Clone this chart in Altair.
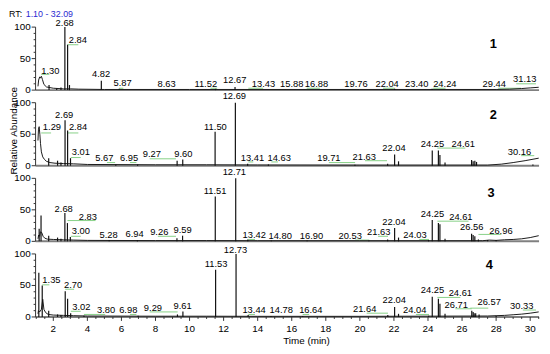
import altair as alt
import pandas as pd

STEP = 120  # vertical stacking step between the four traces (abundance units)
T_MIN, T_MAX = 0.96, 30.52
W, H = 511, 307
FONT = "Liberation Sans"

# ---------------- peaks: retention time (min) and relative abundance (%) ----------------
p1_peak_rt = [1.75, 2.20, 2.45, 2.68, 2.84, 2.95, 4.82, 5.87, 8.63, 11.52, 12.67, 22.04, 24.24]
p1_peak_h = [8, 3, 4, 100, 72, 8, 15, 2, 1.5, 2, 5, 2, 2]

p2_peak_rt = [1.73, 2.25, 2.45, 2.69, 2.84, 3.01, 5.67, 6.95, 9.27, 9.60, 11.50, 12.69, 13.41,
              14.63, 19.71, 21.63, 22.04, 22.27, 24.25, 24.61, 24.70, 25.00, 26.56, 26.65,
              26.75, 26.85, 30.16]
p2_peak_h = [12, 8, 5, 72, 56, 12, 2, 2, 8, 10, 54, 100, 3,
             2, 1.5, 3, 18, 7, 24, 24, 17, 5, 9, 7,
             8, 6, 2]

p3_peak_rt = [1.17, 1.28, 1.73, 2.25, 2.45, 2.68, 2.83, 3.00, 5.28, 6.94, 9.26, 9.59, 11.51,
              12.71, 13.42, 14.80, 16.90, 20.53, 21.63, 22.04, 22.27, 24.03, 24.25, 24.61,
              24.70, 25.00, 26.56, 26.65, 26.75, 26.96, 27.50, 28.00]
p3_peak_h = [20, 41, 9, 6, 4, 45, 29, 7, 2, 2, 5, 9, 71,
             100, 3, 1.5, 1.5, 1.5, 3, 21, 6, 2, 34, 29,
             27, 4, 12, 10, 8, 3, 2, 2]

p4_peak_rt = [1.15, 1.35, 1.73, 2.25, 2.45, 2.70, 2.84, 3.02, 3.80, 6.98, 9.29, 9.61, 11.53,
              12.73, 13.44, 14.78, 16.64, 21.64, 22.04, 22.27, 24.04, 24.25, 24.61, 24.70,
              25.00, 26.57, 26.65, 26.71, 26.80, 27.00, 28.00]
p4_peak_h = [70, 50, 10, 4, 3, 41, 29, 6, 2, 2, 4, 8.5, 75,
             100, 3, 1.5, 1.5, 3, 16, 5, 2, 32, 29, 21,
             5, 10, 8, 6, 6, 4, 2]

# ---------------- baseline / broad features: time (min) and relative abundance (%) ----------------
p1_base_t = [1.10, 1.14, 1.20, 1.24, 1.30, 1.36, 1.45, 1.60, 2.00, 2.60, 3.00, 3.50, 5.0, 10.0,
             20.0, 28.0, 28.8, 29.5, 30.0, 30.5]
p1_base_v = [6, 16, 21, 19, 22, 17, 9, 5, 3, 2, 2, 1.5, 1, 1, 1, 1, 1.5, 2.5, 3.5, 4.5]

p2_base_t = [1.10, 1.13, 1.17, 1.21, 1.25, 1.30, 1.38, 1.48, 1.60, 1.80, 2.10, 2.60, 3.20, 4.0,
             8.0, 11.0, 14.0, 20.0, 27.5, 28.3, 29.0, 29.7, 30.5]
p2_base_v = [40, 58, 62, 50, 35, 22, 14, 10, 7, 5, 4, 3.5, 3, 2, 1.5, 1.5, 1.2, 1, 1, 2.5, 5, 8, 12]

p3_base_t = [1.10, 1.14, 1.20, 1.24, 1.32, 1.40, 1.50, 1.65, 2.0, 2.6, 3.2, 4.0, 8.0, 11.0,
             14.0, 20.0, 27.2, 27.6, 28.0, 28.5, 29.0, 29.5, 30.0, 30.5]
p3_base_v = [4, 10, 8, 15, 14, 8, 5, 3.5, 3, 2.5, 2, 1.5, 1.2, 1.2, 1, 1, 1, 2, 1.5, 2.5, 3, 4, 6, 9]

p4_base_t = [1.10, 1.13, 1.20, 1.30, 1.38, 1.45, 1.55, 1.70, 2.0, 2.6, 3.2, 4.0, 8.0, 11.0,
             14.0, 20.0, 27.5, 28.0, 28.5, 29.0, 29.5, 30.0, 30.5]
p4_base_v = [5, 10, 8, 12, 28, 12, 7, 4, 3, 2.5, 2, 1.5, 1.2, 1.2, 1, 1, 1.5, 2, 2.5, 3.5, 4.5, 6, 8]

# ---------------- peak labels: text, label time position, label abundance position ----------------
p1_lab = ["2.68", "2.84", "1.30", "4.82", "5.87", "8.63", "11.52", "12.67", "13.43", "15.88",
          "16.88", "19.76", "22.04", "23.40", "24.24", "29.44", "31.13"]
p1_lab_t = [2.67, 3.44, 1.83, 4.81, 6.07, 8.65, 10.95, 12.65, 14.34, 16.00,
            17.45, 19.77, 21.60, 23.34, 24.99, 27.89, 29.68]
p1_lab_v = [106, 79, 31, 25, 11, 10, 10, 16, 10, 10, 10, 10, 10, 10, 10, 10, 17]

p2_lab = ["2.69", "1.29", "2.84", "3.01", "5.67", "6.95", "9.27", "9.60", "11.50", "12.69",
          "13.41", "14.63", "19.71", "21.63", "22.04", "24.25", "24.61", "30.16"]
p2_lab_t = [2.64, 1.92, 3.45, 3.62, 5.00, 6.45, 7.79, 9.64, 11.52, 12.63,
            13.69, 15.26, 18.18, 20.26, 22.00, 24.26, 26.07, 29.37]
p2_lab_v = [81, 61, 61, 22, 12, 12, 19, 19, 62, 110, 12, 12, 12, 14, 28, 35, 34, 22]

p3_lab = ["2.68", "2.83", "3.00", "5.28", "6.94", "9.26", "9.59", "11.51", "12.71", "13.42",
          "14.80", "16.90", "20.53", "21.63", "22.04", "24.03", "24.25", "24.61", "26.56", "26.96"]
p3_lab_t = [2.61, 4.03, 3.62, 5.25, 6.77, 8.22, 9.59, 11.50, 12.63, 13.80,
            15.32, 17.16, 19.43, 21.11, 22.00, 23.24, 24.26, 25.93, 26.57, 28.28]
p3_lab_v = [52, 39, 16, 10, 11, 15, 18, 80, 110, 10, 9, 9, 9, 15, 31, 10, 44, 39, 23, 17]

p4_lab = ["1.35", "2.70", "3.02", "3.80", "6.98", "9.29", "9.61", "11.53", "12.73", "13.44",
          "14.78", "16.64", "21.64", "22.04", "24.04", "24.25", "24.61", "26.71", "26.57", "30.33"]
p4_lab_t = [1.89, 3.16, 3.65, 5.10, 6.40, 7.85, 9.59, 11.56, 12.70, 13.79,
            15.38, 17.12, 20.28, 22.02, 23.22, 24.26, 25.90, 25.66, 27.59, 29.50]
p4_lab_v = [58, 50, 16, 11, 11, 14, 17, 84, 106, 11, 11, 11, 13, 27, 11, 42, 38, 19, 23, 17]

# ---------------- green label leader lines: start time, end time, abundance ----------------
p1_lead_t1 = [1.29, 2.83, 5.87, 11.23, 13.45, 16.88, 21.36, 24.30, 28.12, 29.18]
p1_lead_t2 = [1.77, 3.47, 6.11, 11.62, 14.32, 17.65, 22.04, 25.03, 29.47, 30.34]
p1_lead_v = [25, 72, 3, 3, 3, 3, 3, 3, 3, 10]

p2_lead_t1 = [1.29, 2.83, 3.03, 5.15, 6.50, 7.66, 13.45, 14.80, 18.18, 20.30, 24.55, 29.47]
p2_lead_t2 = [1.87, 3.47, 3.61, 5.63, 6.88, 9.20, 13.74, 15.19, 19.72, 21.59, 26.19, 30.24]
p2_lead_v = [52, 52, 13, 5, 5, 11, 6, 6, 5, 8, 28, 16]

p3_lead_t1 = [2.83, 3.03, 8.14, 13.45, 19.72, 21.07, 23.49, 24.55, 26.96]
p3_lead_t2 = [4.48, 3.61, 9.20, 13.84, 20.55, 21.65, 24.06, 26.38, 28.31]
p3_lead_v = [33, 8, 8, 3, 2, 8, 3, 32, 11]

p4_lead_t1 = [1.35, 2.70, 3.03, 3.80, 6.50, 7.66, 13.45, 16.64, 20.40, 23.29, 24.55, 25.61, 26.48, 29.57]
p4_lead_t2 = [1.77, 3.22, 3.61, 5.05, 6.88, 9.30, 13.84, 17.02, 21.65, 24.06, 25.90, 26.57, 27.54, 30.34]
p4_lead_v = [51, 44, 9, 4, 4, 8, 4, 4, 6, 4, 31, 13, 14, 11]

# panel tags
panel_tag = ["1", "2", "3", "4"]
panel_tag_t = [27.83, 27.83, 27.70, 27.60]
panel_tag_v = [73, 80, 76, 83]

# axis ticks
y_major = [0, 50, 100]
y_minor = [10, 20, 30, 40, 60, 70, 80, 90]
x_major = [2, 4, 6, 8, 10, 12, 14, 16, 18, 20, 22, 24, 26, 28, 30]
x_minor = [1.0, 1.5, 2.5, 3.0, 3.5, 4.5, 5.0, 5.5, 6.5, 7.0, 7.5, 8.5, 9.0, 9.5, 10.5, 11.0,
           11.5, 12.5, 13.0, 13.5, 14.5, 15.0, 15.5, 16.5, 17.0, 17.5, 18.5, 19.0, 19.5,
           20.5, 21.0, 21.5, 22.5, 23.0, 23.5, 24.5, 25.0, 25.5, 26.5, 27.0, 27.5, 28.5,
           29.0, 29.5, 30.5]

# ---------------- assemble tables ----------------
peaks = [(p1_peak_rt, p1_peak_h), (p2_peak_rt, p2_peak_h), (p3_peak_rt, p3_peak_h), (p4_peak_rt, p4_peak_h)]
bases = [(p1_base_t, p1_base_v), (p2_base_t, p2_base_v), (p3_base_t, p3_base_v), (p4_base_t, p4_base_v)]
labs = [(p1_lab, p1_lab_t, p1_lab_v), (p2_lab, p2_lab_t, p2_lab_v), (p3_lab, p3_lab_t, p3_lab_v), (p4_lab, p4_lab_t, p4_lab_v)]
leads = [(p1_lead_t1, p1_lead_t2, p1_lead_v), (p2_lead_t1, p2_lead_t2, p2_lead_v),
         (p3_lead_t1, p3_lead_t2, p3_lead_v), (p4_lead_t1, p4_lead_t2, p4_lead_v)]

def off(k):
    return (3 - k) * STEP

peak_rows, base_rows, lab_rows, lead_rows, panel_rows, tag_rows = [], [], [], [], [], []
ymaj_rows, ymin_rows = [], []
for k in range(4):
    o = off(k)
    for t, h in zip(*peaks[k]):
        peak_rows.append({"panel": k + 1, "t": t, "y0": o, "y1": o + h})
    for t, v in zip(*bases[k]):
        base_rows.append({"panel": k + 1, "t": t, "y": o + v})
    for s, t, v in zip(*labs[k]):
        lab_rows.append({"panel": k + 1, "label": s, "t": t, "y": o + v})
    for t1, t2, v in zip(*leads[k]):
        lead_rows.append({"panel": k + 1, "t1": t1, "t2": t2, "y": o + v})
    panel_rows.append({"panel": k + 1, "y0": o, "y1": o + 100})
    tag_rows.append({"tag": panel_tag[k], "t": panel_tag_t[k], "y": o + panel_tag_v[k]})
    for v in y_major:
        ymaj_rows.append({"y": o + v, "label": str(v)})
    for v in y_minor:
        ymin_rows.append({"y": o + v})

df_peaks = pd.DataFrame(peak_rows)
df_base = pd.DataFrame(base_rows)
df_lab = pd.DataFrame(lab_rows)
df_lead = pd.DataFrame(lead_rows)
df_panel = pd.DataFrame(panel_rows)
df_tag = pd.DataFrame(tag_rows)
df_ymaj = pd.DataFrame(ymaj_rows)
df_ymin = pd.DataFrame(ymin_rows)
df_xmaj = pd.DataFrame({"t": x_major, "label": [str(v) for v in x_major]})
df_xmin = pd.DataFrame({"t": x_minor})
one = pd.DataFrame({"a": [0]})

xs = alt.Scale(domain=[T_MIN, T_MAX], nice=False, zero=False)
ys = alt.Scale(domain=[0, 4 * STEP], nice=False, zero=False)

def X(f):
    return alt.X(f, type="quantitative", scale=xs, axis=None)

def Y(f):
    return alt.Y(f, type="quantitative", scale=ys, axis=None)

AX = "#333333"

baseline_rule = alt.Chart(df_panel).mark_rule(color="#808080", strokeWidth=2).encode(
    x=alt.value(0), x2=alt.value(W), y=Y("y0"))
yaxis_rule = alt.Chart(df_panel).mark_rule(color=AX, strokeWidth=1).encode(
    x=alt.value(0), y=Y("y0"), y2="y1:Q")
ymaj_tick = alt.Chart(df_ymaj).mark_rule(color=AX, strokeWidth=1).encode(
    x=alt.value(-4), x2=alt.value(0), y=Y("y"))
ymin_tick = alt.Chart(df_ymin).mark_rule(color=AX, strokeWidth=1).encode(
    x=alt.value(-2), x2=alt.value(0), y=Y("y"))
ymaj_lab = alt.Chart(df_ymaj).mark_text(font=FONT, fontSize=10, color="#000", align="right",
                                        baseline="middle").encode(
    x=alt.value(-5), y=Y("y"), text="label:N")
xmaj_tick = alt.Chart(df_xmaj).mark_rule(color=AX, strokeWidth=1).encode(
    x=X("t"), y=alt.value(H), y2=alt.value(H + 4))
xmin_tick = alt.Chart(df_xmin).mark_rule(color=AX, strokeWidth=1).encode(
    x=X("t"), y=alt.value(H), y2=alt.value(H + 2))
xmaj_lab = alt.Chart(df_xmaj).mark_text(font=FONT, fontSize=10, color="#000", align="center",
                                        baseline="top").encode(
    x=X("t"), y=alt.value(H + 7), text="label:N")

lead_layer = alt.Chart(df_lead).mark_rule(color="#86d086", strokeWidth=1).encode(
    x=X("t1"), x2="t2:Q", y=Y("y"))

base_layer = alt.Chart(df_base).mark_line(color="#1a1a1a", strokeWidth=1).encode(
    x=X("t"), y=Y("y"), detail="panel:N")

peak_layer = alt.Chart(df_peaks).mark_rule(color="#111", strokeWidth=1.2).encode(
    x=X("t"), y=Y("y0"), y2="y1:Q")

lab_layer = alt.Chart(df_lab).mark_text(font=FONT, fontSize=9.5, color="#000").encode(
    x=X("t"), y=Y("y"), text="label:N")

tag_layer = alt.Chart(df_tag).mark_text(font=FONT, fontSize=13, fontWeight="bold", color="#000").encode(
    x=X("t"), y=Y("y"), text="tag:N")

hdr1 = alt.Chart(one).mark_text(font=FONT, fontSize=9, color="#000", align="left", baseline="top").encode(
    x=alt.value(-27), y=alt.value(-4), text=alt.value("RT:"))
hdr2 = alt.Chart(one).mark_text(font=FONT, fontSize=9, color="#2a2ad0", align="left", baseline="top").encode(
    x=alt.value(-10), y=alt.value(-4), text=alt.value("1.10 - 32.09"))
ytitle = alt.Chart(one).mark_text(font=FONT, fontSize=10, color="#000", angle=270).encode(
    x=alt.value(-22), y=alt.value(118), text=alt.value("Relative Abundance"))
xtitle = alt.Chart(one).mark_text(font=FONT, fontSize=10, color="#000").encode(
    x=alt.value(275), y=alt.value(331), text=alt.value("Time (min)"))

chart = alt.layer(
    baseline_rule, yaxis_rule, ymaj_tick, ymin_tick, ymaj_lab, xmaj_tick, xmin_tick, xmaj_lab,
    lead_layer, base_layer, peak_layer, lab_layer, tag_layer, hdr1, hdr2, ytitle, xtitle
).properties(
    width=W, height=H,
    padding={"left": 28, "top": 4, "right": 3, "bottom": 35},
    autosize=alt.AutoSizeParams(type="none"),
    background="white",
).configure_view(stroke=None)

chart.save("out.html", embed_options={"renderer": "svg", "actions": False})
